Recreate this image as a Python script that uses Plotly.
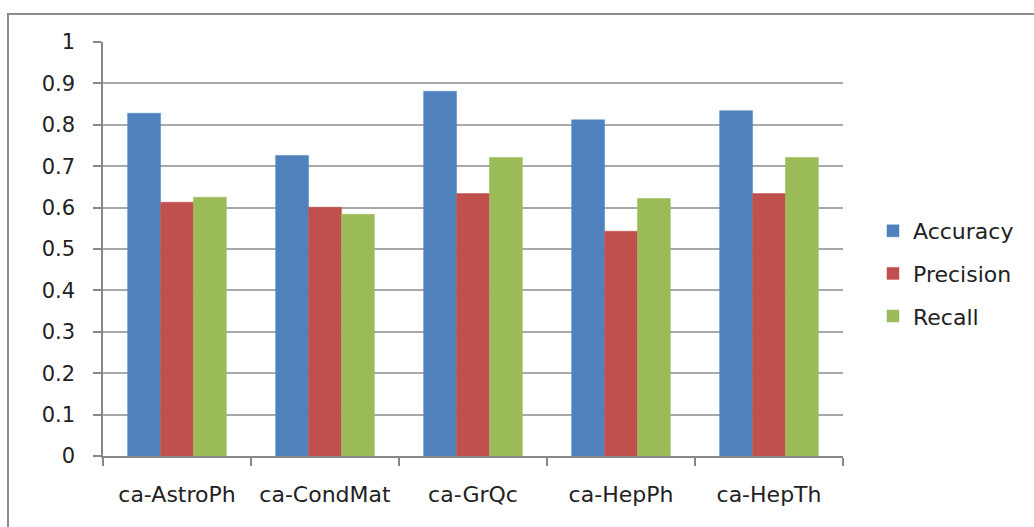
import plotly.graph_objects as go

categories = ["ca-AstroPh", "ca-CondMat", "ca-GrQc", "ca-HepPh", "ca-HepTh"]
accuracy = [0.828, 0.726, 0.881, 0.812, 0.834]
precision = [0.613, 0.601, 0.634, 0.543, 0.634]
recall = [0.625, 0.584, 0.721, 0.622, 0.721]
series_names = ["Accuracy", "Precision", "Recall"]
colors = ["#4F81BD", "#C0504D", "#9BBB59"]
y_ticks = [0, 0.1, 0.2, 0.3, 0.4, 0.5, 0.6, 0.7, 0.8, 0.9, 1]
y_tick_text = ["0", "0.1", "0.2", "0.3", "0.4", "0.5", "0.6", "0.7", "0.8", "0.9", "1"]

fig = go.Figure()
for name, vals, col in zip(series_names, [accuracy, precision, recall], colors):
    fig.add_trace(go.Bar(
        x=categories, y=vals, name=name, legendgroup=name,
        marker=dict(color=col, line=dict(color=col, width=0.5)),
    ))

W, H = 1034, 527
L, R, T, B = 103, 843, 42, 456
pw, ph = R - L, B - T

def px(x):
    return (x - L) / pw

def py(y):
    return (B - y) / ph

fig.update_layout(
    width=W, height=H,
    margin=dict(l=L, r=W - R, t=T, b=H - B),
    paper_bgcolor="white", plot_bgcolor="white",
    barmode="group", bargap=0.333, bargroupgap=0,
    font=dict(family="DejaVu Sans", color="#222222"),
    legend=dict(
        x=px(873), y=py(210), xanchor="left", yanchor="top",
        font=dict(size=22, family="DejaVu Sans", color="#222222"),
        tracegroupgap=11, traceorder="grouped",
        bgcolor="rgba(0,0,0,0)",
    ),
    showlegend=True,
    xaxis=dict(
        showline=True, linecolor="#888888", linewidth=1.5,
        ticks="outside", ticklen=8, tickcolor="#888888", tickwidth=1.5,
        tickson="boundaries",
        tickfont=dict(size=22, family="DejaVu Sans", color="#222222"),
        ticklabelstandoff=18,
        showgrid=False,
    ),
    yaxis=dict(
        range=[0, 1], tickvals=y_ticks, ticktext=y_tick_text,
        showline=True, linecolor="#888888", linewidth=1.5,
        ticks="outside", ticklen=8, tickcolor="#888888", tickwidth=1.5,
        showgrid=True, gridcolor="#A8A8A8", gridwidth=1.5,
        tickfont=dict(size=21, family="DejaVu Sans", color="#222222"),
        ticklabelstandoff=14,
        zeroline=False,
    ),
    shapes=[dict(
        type="rect", xref="paper", yref="paper",
        x0=px(8), x1=px(1045), y0=py(540), y1=py(14),
        line=dict(color="#8C8C8C", width=2), fillcolor="rgba(0,0,0,0)",
        layer="below",
    )],
)

fig.write_html("out.html", config={"displayModeBar": False},
               post_script="document.body.style.margin='0';document.body.style.overflow='hidden';")
